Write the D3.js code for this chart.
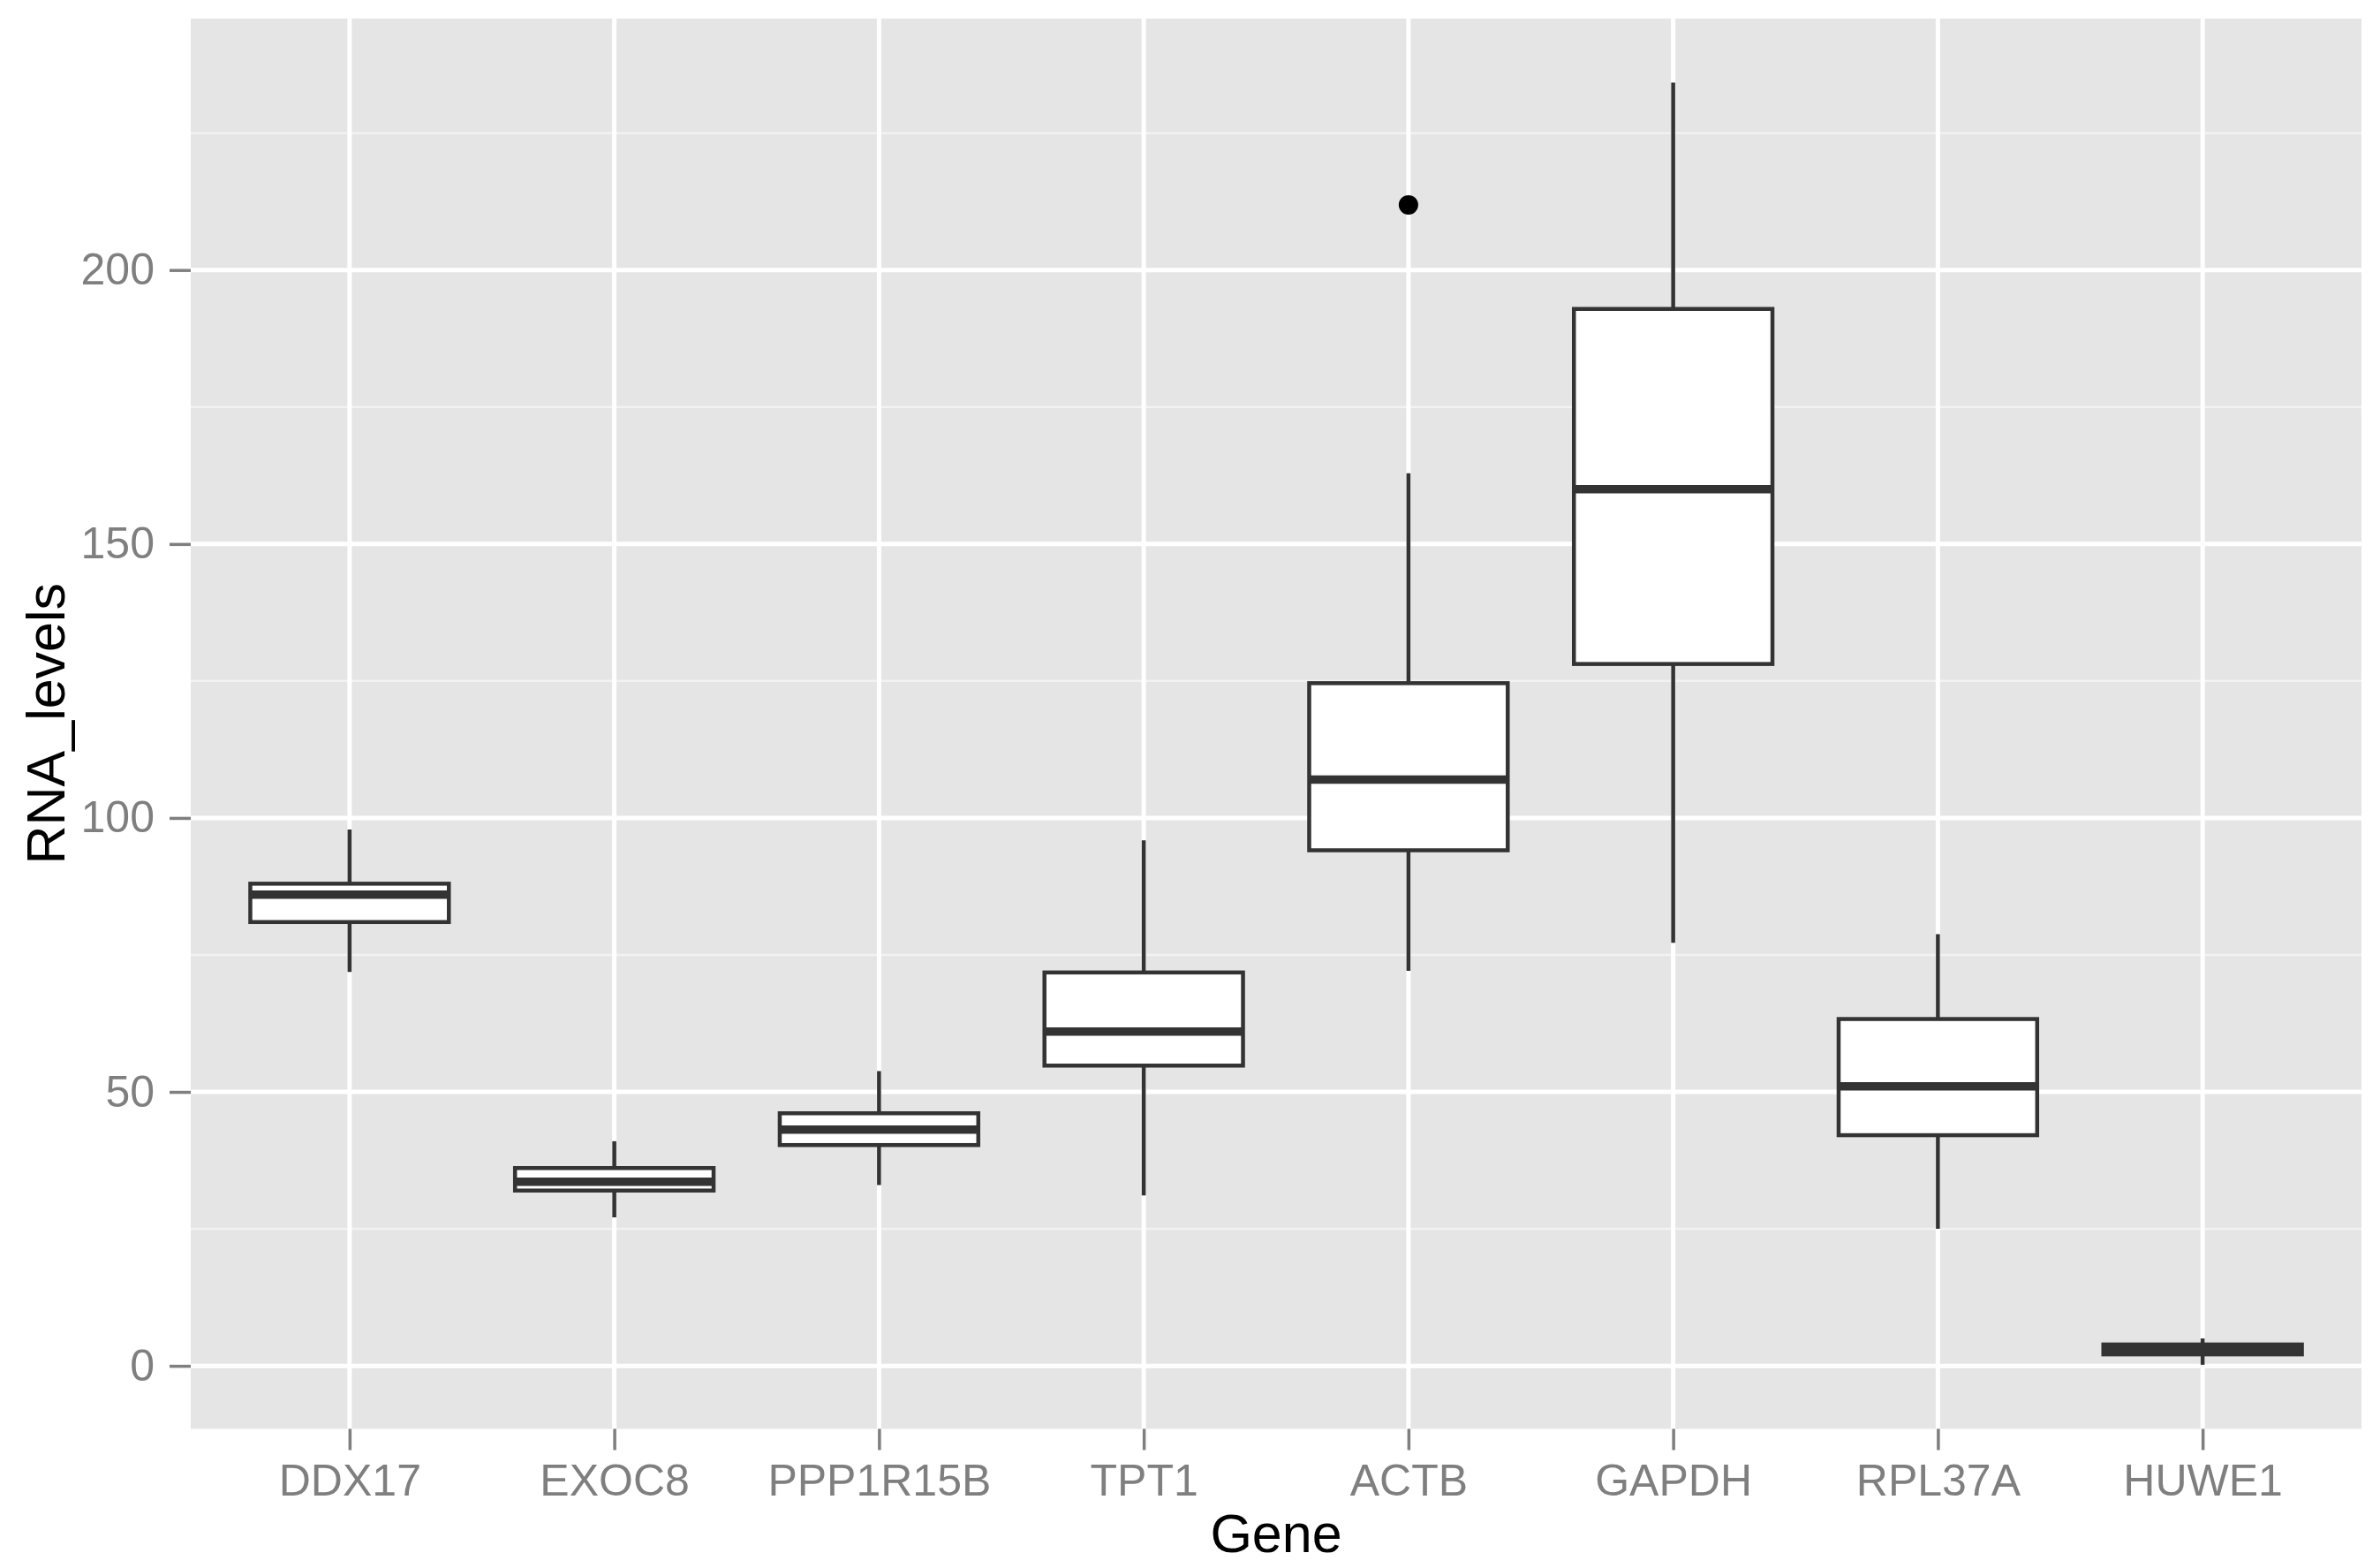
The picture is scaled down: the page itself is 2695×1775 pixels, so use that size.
<!DOCTYPE html>
<html>
<head>
<meta charset="utf-8">
<script src="https://cdn.jsdelivr.net/npm/d3@7"></script>
<style>
    body { margin: 0; background: #ffffff; }
    svg { display: block; }
</style>
</head>
<body>
<div id="chart"></div>
<script>
// Data
const genes = ["DDX17", "EXOC8", "PPP1R15B", "TPT1", "ACTB", "GAPDH", "RPL37A", "HUWE1"];
const whiskerLow  = [71.9, 27.1, 33.0, 31.1, 72.1, 77.2, 25.0, 0.2];
const lowerQuart  = [81.0, 32.0, 40.3, 54.8, 94.1, 128.1, 42.1, 2.1];
const medians     = [86.0, 33.6, 43.1, 61.0, 107.0, 160.0, 51.0, 3.0];
const upperQuart  = [88.0, 36.1, 46.1, 71.8, 124.6, 192.9, 63.3, 3.9];
const whiskerHigh = [97.9, 41.0, 53.8, 95.9, 162.9, 234.2, 78.8, 5.0];
const outlierGenes  = ["ACTB"];
const outlierValues = [211.9];
const yMajorTicks = [0, 50, 100, 150, 200];
const yMinorTicks = [25, 75, 125, 175, 225];
const xTitle = "Gene";
const yTitle = "RNA_levels";

// Layout
const CONFIG = {
    width: 2695,
    height: 1775,
    panel: { left: 216, right: 2674, top: 21, bottom: 1617.5 },
    boxWidth: 0.75,
    font: "'Liberation Sans', Arial, Helvetica, sans-serif"
};

const boxes = genes.map((g, i) => ({
    gene: g,
    low: whiskerLow[i],
    q1: lowerQuart[i],
    median: medians[i],
    q3: upperQuart[i],
    high: whiskerHigh[i]
}));
const outliers = outlierGenes.map((g, i) => ({ gene: g, value: outlierValues[i] }));

const svg = d3.select("#chart")
    .append("svg")
    .attr("width", CONFIG.width)
    .attr("height", CONFIG.height);

// Scales (ggplot-style expansion: 0.6 units on discrete, 5% on continuous)
const xScale = d3.scalePoint()
    .domain(genes)
    .range([CONFIG.panel.left, CONFIG.panel.right])
    .padding(0.6);

const allValues = whiskerLow.concat(whiskerHigh, outlierValues);
const yMin = d3.min(allValues), yMax = d3.max(allValues);
const yPad = (yMax - yMin) * 0.05;

const yScale = d3.scaleLinear()
    .domain([yMin - yPad, yMax + yPad])
    .range([CONFIG.panel.bottom, CONFIG.panel.top]);

const boxPx = xScale.step() * CONFIG.boxWidth;

// Panel background
svg.append("rect")
    .attr("x", CONFIG.panel.left)
    .attr("y", CONFIG.panel.top)
    .attr("width", CONFIG.panel.right - CONFIG.panel.left)
    .attr("height", CONFIG.panel.bottom - CONFIG.panel.top)
    .attr("fill", "#e5e5e5");

// Grid lines
svg.append("g")
    .selectAll("line")
    .data(yMinorTicks)
    .join("line")
    .attr("x1", CONFIG.panel.left)
    .attr("x2", CONFIG.panel.right)
    .attr("y1", d => yScale(d))
    .attr("y2", d => yScale(d))
    .attr("stroke", "#f2f2f2")
    .attr("stroke-width", 2.5);

svg.append("g")
    .selectAll("line")
    .data(yMajorTicks)
    .join("line")
    .attr("x1", CONFIG.panel.left)
    .attr("x2", CONFIG.panel.right)
    .attr("y1", d => yScale(d))
    .attr("y2", d => yScale(d))
    .attr("stroke", "#ffffff")
    .attr("stroke-width", 5);

svg.append("g")
    .selectAll("line")
    .data(genes)
    .join("line")
    .attr("x1", d => xScale(d))
    .attr("x2", d => xScale(d))
    .attr("y1", CONFIG.panel.top)
    .attr("y2", CONFIG.panel.bottom)
    .attr("stroke", "#ffffff")
    .attr("stroke-width", 5);

// Boxes
const boxGroups = svg.append("g")
    .selectAll("g")
    .data(boxes)
    .join("g");

boxGroups.append("line")
    .attr("x1", d => xScale(d.gene))
    .attr("x2", d => xScale(d.gene))
    .attr("y1", d => yScale(d.low))
    .attr("y2", d => yScale(d.high))
    .attr("stroke", "#333333")
    .attr("stroke-width", 4.5);

boxGroups.append("rect")
    .attr("x", d => xScale(d.gene) - boxPx / 2)
    .attr("width", boxPx)
    .attr("y", d => yScale(d.q3))
    .attr("height", d => yScale(d.q1) - yScale(d.q3))
    .attr("fill", "#ffffff")
    .attr("stroke", "#333333")
    .attr("stroke-width", 4.5);

boxGroups.append("line")
    .attr("x1", d => xScale(d.gene) - boxPx / 2)
    .attr("x2", d => xScale(d.gene) + boxPx / 2)
    .attr("y1", d => yScale(d.median))
    .attr("y2", d => yScale(d.median))
    .attr("stroke", "#333333")
    .attr("stroke-width", 9.5);

// Outliers
svg.append("g")
    .selectAll("circle")
    .data(outliers)
    .join("circle")
    .attr("cx", d => xScale(d.gene))
    .attr("cy", d => yScale(d.value))
    .attr("r", 11)
    .attr("fill", "#000000");

// Axes
const yAxis = svg.append("g")
    .attr("transform", `translate(${CONFIG.panel.left},0)`)
    .call(d3.axisLeft(yScale).tickValues(yMajorTicks).tickSize(24).tickPadding(17));

const xAxis = svg.append("g")
    .attr("transform", `translate(0,${CONFIG.panel.bottom})`)
    .call(d3.axisBottom(xScale).tickSize(24).tickPadding(16));

[yAxis, xAxis].forEach(axis => {
    axis.select(".domain").remove();
    axis.selectAll(".tick line")
        .attr("stroke", "#7f7f7f")
        .attr("stroke-width", 3.5);
    axis.selectAll(".tick text")
        .attr("fill", "#7f7f7f")
        .attr("font-family", CONFIG.font)
        .attr("font-size", 50);
});

// Axis titles
svg.append("text")
    .attr("x", (CONFIG.panel.left + CONFIG.panel.right) / 2)
    .attr("y", 1757)
    .attr("text-anchor", "middle")
    .attr("font-family", CONFIG.font)
    .attr("font-size", 61)
    .attr("fill", "#000000")
    .text(xTitle);

svg.append("text")
    .attr("transform", `translate(73,${(CONFIG.panel.top + CONFIG.panel.bottom) / 2}) rotate(-90)`)
    .attr("text-anchor", "middle")
    .attr("font-family", CONFIG.font)
    .attr("font-size", 61)
    .attr("fill", "#000000")
    .text(yTitle);
</script>
</body>
</html>
